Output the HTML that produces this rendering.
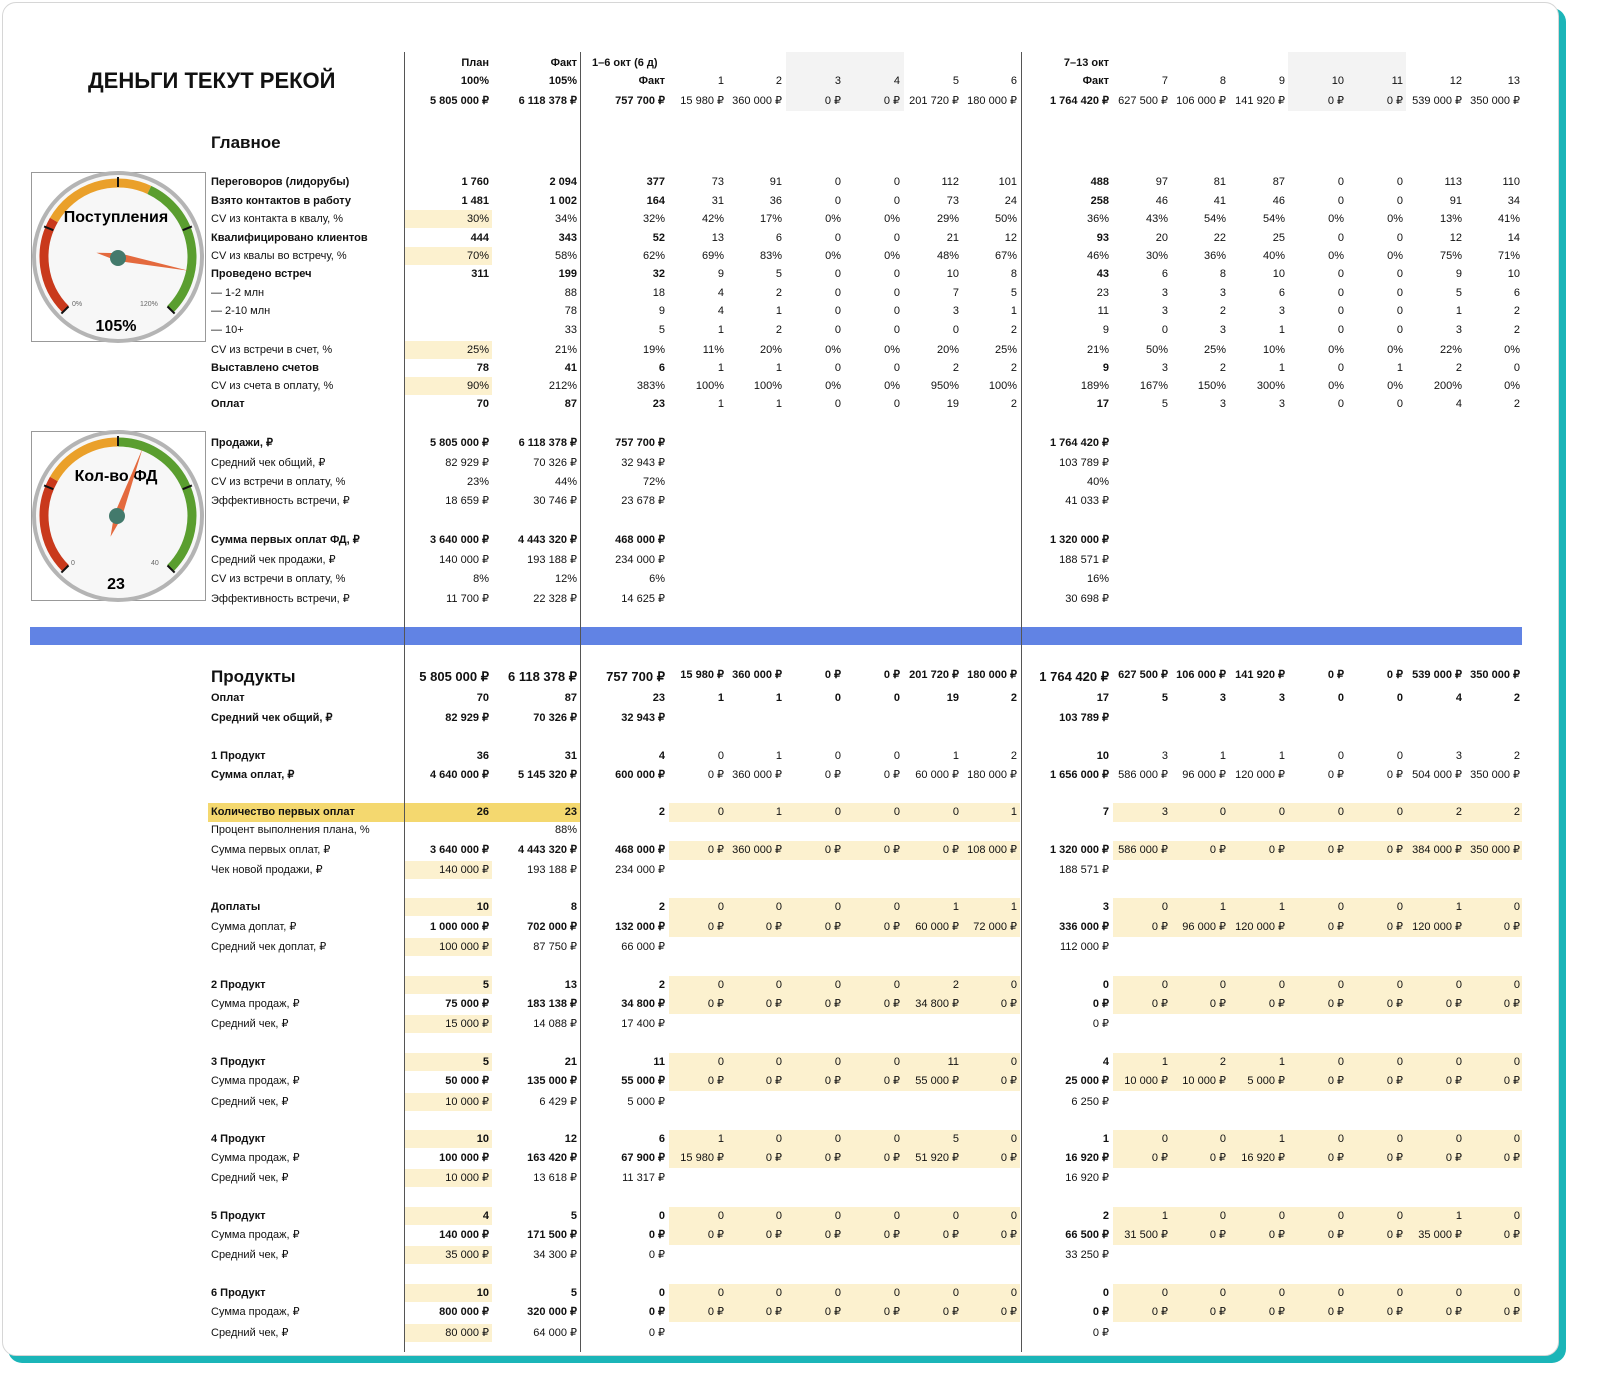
<!DOCTYPE html>
<html><head><meta charset="utf-8"><style>
*{margin:0;padding:0;box-sizing:border-box}
html,body{width:1600px;height:1393px;background:#fff;overflow:hidden;font-family:"Liberation Sans",Arial,sans-serif;color:#111}
#teal{position:absolute;left:8px;top:8px;width:1558px;height:1355px;background:#1bb5b8;border-radius:14px}
#card{position:absolute;left:2px;top:2px;width:1557px;height:1354px;background:#fff;border-radius:14px;border:1px solid #d6d6d6;overflow:hidden}
.bg{position:absolute}
.y{background:#fcf1cf}
.g{background:#f3f3f3}
.vl{position:absolute;top:52px;width:1px;height:1300px;background:#555}
.r{position:absolute;left:0;width:1600px;height:14px;font-size:11px;line-height:14px}
.r>*{position:absolute;top:0;width:100px;text-align:right;font-style:normal;white-space:nowrap}
.r>b{font-weight:bold}
.r>.l{left:211px;text-align:left;width:220px}
.a{left:389px}.b{left:477px}.w{left:565px}
.d1{left:624px}.d2{left:682px}.d3{left:741px}.d4{left:800px}.d5{left:859px}.d6{left:917px}
.x{left:1009px}
.e7{left:1068px}.e8{left:1126px}.e9{left:1185px}.e10{left:1244px}.e11{left:1303px}.e12{left:1362px}.e13{left:1420px}
.big>b.l{font-size:17px;line-height:14px}
.big>b.a,.big>b.b,.big>b.w,.big>b.x{font-size:13px}
</style></head><body>
<div id="teal"></div>
<div id="card"></div>

<!-- backgrounds -->
<div class="bg g" style="left:786px;top:52px;width:118px;height:59px"></div>
<div class="bg g" style="left:1288px;top:52px;width:118px;height:59px"></div>
<div class="bg y" style="left:404px;top:210px;width:88px;height:18px"></div>
<div class="bg y" style="left:404px;top:247px;width:88px;height:18px"></div>
<div class="bg y" style="left:404px;top:341px;width:88px;height:18px"></div>
<div class="bg y" style="left:404px;top:377px;width:88px;height:18px"></div>
<div class="bg" style="left:208px;top:803px;width:372px;height:19px;background:#f4d86f"></div>
<div class="bg y" style="left:404px;top:861px;width:88px;height:18px"></div>
<div class="bg y" style="left:404px;top:898px;width:88px;height:18px"></div>
<div class="bg y" style="left:404px;top:938px;width:88px;height:18px"></div>
<div class="bg y" style="left:404px;top:976px;width:88px;height:18px"></div>
<div class="bg y" style="left:404px;top:1015px;width:88px;height:18px"></div>
<div class="bg y" style="left:404px;top:1053px;width:88px;height:18px"></div>
<div class="bg y" style="left:404px;top:1093px;width:88px;height:18px"></div>
<div class="bg y" style="left:404px;top:1130px;width:88px;height:18px"></div>
<div class="bg y" style="left:404px;top:1169px;width:88px;height:18px"></div>
<div class="bg y" style="left:404px;top:1207px;width:88px;height:18px"></div>
<div class="bg y" style="left:404px;top:1246px;width:88px;height:18px"></div>
<div class="bg y" style="left:404px;top:1284px;width:88px;height:18px"></div>
<div class="bg y" style="left:404px;top:1324px;width:88px;height:18px"></div>
<!-- day bands -->
<div class="bg y" style="left:669px;top:803px;width:351px;height:19px"></div>
<div class="bg y" style="left:1113px;top:803px;width:409px;height:19px"></div>
<div class="bg y" style="left:669px;top:841px;width:351px;height:19px"></div>
<div class="bg y" style="left:1113px;top:841px;width:409px;height:19px"></div>
<div class="bg y" style="left:669px;top:898px;width:351px;height:39px"></div>
<div class="bg y" style="left:1113px;top:898px;width:409px;height:39px"></div>
<div class="bg y" style="left:669px;top:976px;width:351px;height:38px"></div>
<div class="bg y" style="left:1113px;top:976px;width:409px;height:38px"></div>
<div class="bg y" style="left:669px;top:1053px;width:351px;height:38px"></div>
<div class="bg y" style="left:1113px;top:1053px;width:409px;height:38px"></div>
<div class="bg y" style="left:669px;top:1130px;width:351px;height:38px"></div>
<div class="bg y" style="left:1113px;top:1130px;width:409px;height:38px"></div>
<div class="bg y" style="left:669px;top:1207px;width:351px;height:38px"></div>
<div class="bg y" style="left:1113px;top:1207px;width:409px;height:38px"></div>
<div class="bg y" style="left:669px;top:1284px;width:351px;height:38px"></div>
<div class="bg y" style="left:1113px;top:1284px;width:409px;height:38px"></div>
<!-- blue bar -->
<div class="bg" style="left:30px;top:627px;width:1492px;height:18px;background:#6183e4"></div>
<div class="vl" style="left:404px"></div>
<div class="vl" style="left:580px"></div>
<div class="vl" style="left:1021px"></div>

<!-- gauges -->
<div class="bg" style="left:31px;top:172px;width:175px;height:170px;border:1px solid #999"></div>
<div class="bg" style="left:31px;top:431px;width:175px;height:170px;border:1px solid #999"></div>
<svg style="position:absolute;left:0;top:0" width="1600" height="1393">
<g>
<circle cx="118" cy="257" r="84" fill="#f7f7f7" stroke="#b4b4b4" stroke-width="4"/>
<path d="M65.7,309.3 A74,74 0 0 1 53.9,220" fill="none" stroke="#c9391c" stroke-width="9"/>
<path d="M53.9,220 A74,74 0 0 1 149.3,189.9" fill="none" stroke="#eaa02a" stroke-width="9"/>
<path d="M149.3,189.9 A74,74 0 0 1 170.3,309.3" fill="none" stroke="#5a9e2f" stroke-width="9"/>
<g stroke="#111" stroke-width="2"><line x1="53.3" y1="230.2" x2="44.1" y2="226.4"/><line x1="182.7" y1="230.2" x2="191.9" y2="226.4"/><line x1="118" y1="187" x2="118" y2="177"/><line x1="68.5" y1="306.5" x2="61.4" y2="313.6"/><line x1="167.5" y1="306.5" x2="174.6" y2="313.6"/></g>
<text x="116" y="222" font-size="16" font-weight="bold" text-anchor="middle" font-family="Liberation Sans, sans-serif">Поступления</text>
<text x="72" y="306" font-size="7" fill="#666" font-family="Liberation Sans, sans-serif">0%</text>
<text x="140" y="306" font-size="7" fill="#666" font-family="Liberation Sans, sans-serif">120%</text>
<text x="116" y="331" font-size="16" font-weight="bold" text-anchor="middle" font-family="Liberation Sans, sans-serif">105%</text>
<polygon points="188.7,270.7 117.2,260.9 96.4,252.8 118.8,253.1" fill="#e46a3e"/>
<circle cx="118" cy="258" r="8" fill="#437a6c"/>
</g>
<g>
<circle cx="118" cy="516" r="84" fill="#f7f7f7" stroke="#b4b4b4" stroke-width="4"/>
<path d="M65.7,568.3 A74,74 0 0 1 53.9,479" fill="none" stroke="#c9391c" stroke-width="9"/>
<path d="M53.9,479 A74,74 0 0 1 118,442" fill="none" stroke="#eaa02a" stroke-width="9"/>
<path d="M118,442 A74,74 0 0 1 170.3,568.3" fill="none" stroke="#5a9e2f" stroke-width="9"/>
<g stroke="#111" stroke-width="2"><line x1="53.3" y1="489.2" x2="44.1" y2="485.4"/><line x1="182.7" y1="489.2" x2="191.9" y2="485.4"/><line x1="118" y1="446" x2="118" y2="436"/><line x1="68.5" y1="565.5" x2="61.4" y2="572.6"/><line x1="167.5" y1="565.5" x2="174.6" y2="572.6"/></g>
<text x="116" y="481" font-size="16" font-weight="bold" text-anchor="middle" font-family="Liberation Sans, sans-serif">Кол-во ФД</text>
<text x="71" y="565" font-size="7" fill="#666" font-family="Liberation Sans, sans-serif">0</text>
<text x="151" y="565" font-size="7" fill="#666" font-family="Liberation Sans, sans-serif">40</text>
<text x="116" y="589" font-size="16" font-weight="bold" text-anchor="middle" font-family="Liberation Sans, sans-serif">23</text>
<polygon points="142.6,448.3 121.8,517.4 110.5,536.7 114.2,514.6" fill="#e46a3e"/>
<circle cx="117" cy="516" r="8" fill="#437a6c"/>
</g>
</svg>

<div style="position:absolute;left:88px;top:68px;font-size:22px;font-weight:bold;line-height:26px">ДЕНЬГИ ТЕКУТ РЕКОЙ</div>
<div style="position:absolute;left:211px;top:132px;font-size:17px;font-weight:bold;line-height:22px">Главное</div>

<!-- header -->
<div class="r" style="top:56px"><b class="a">План</b><b class="b">Факт</b><b style="left:592px;text-align:left;width:120px">1–6 окт (6 д)</b><b class="x">7–13 окт</b></div>
<div class="r" style="top:74px"><b class="a">100%</b><b class="b">105%</b><b class="w">Факт</b><i class="d1">1</i><i class="d2">2</i><i class="d3">3</i><i class="d4">4</i><i class="d5">5</i><i class="d6">6</i><b class="x">Факт</b><i class="e7">7</i><i class="e8">8</i><i class="e9">9</i><i class="e10">10</i><i class="e11">11</i><i class="e12">12</i><i class="e13">13</i></div>
<div class="r" style="top:94px"><b class="a">5 805 000 ₽</b><b class="b">6 118 378 ₽</b><b class="w">757 700 ₽</b><i class="d1">15 980 ₽</i><i class="d2">360 000 ₽</i><i class="d3">0 ₽</i><i class="d4">0 ₽</i><i class="d5">201 720 ₽</i><i class="d6">180 000 ₽</i><b class="x">1 764 420 ₽</b><i class="e7">627 500 ₽</i><i class="e8">106 000 ₽</i><i class="e9">141 920 ₽</i><i class="e10">0 ₽</i><i class="e11">0 ₽</i><i class="e12">539 000 ₽</i><i class="e13">350 000 ₽</i></div>

<!-- main -->
<div class="r" style="top:175px"><b class="l">Переговоров (лидорубы)</b><b class="a">1 760</b><b class="b">2 094</b><b class="w">377</b><i class="d1">73</i><i class="d2">91</i><i class="d3">0</i><i class="d4">0</i><i class="d5">112</i><i class="d6">101</i><b class="x">488</b><i class="e7">97</i><i class="e8">81</i><i class="e9">87</i><i class="e10">0</i><i class="e11">0</i><i class="e12">113</i><i class="e13">110</i></div>
<div class="r" style="top:194px"><b class="l">Взято контактов в работу</b><b class="a">1 481</b><b class="b">1 002</b><b class="w">164</b><i class="d1">31</i><i class="d2">36</i><i class="d3">0</i><i class="d4">0</i><i class="d5">73</i><i class="d6">24</i><b class="x">258</b><i class="e7">46</i><i class="e8">41</i><i class="e9">46</i><i class="e10">0</i><i class="e11">0</i><i class="e12">91</i><i class="e13">34</i></div>
<div class="r" style="top:212px"><i class="l">CV из контакта в квалу, %</i><i class="a">30%</i><i class="b">34%</i><i class="w">32%</i><i class="d1">42%</i><i class="d2">17%</i><i class="d3">0%</i><i class="d4">0%</i><i class="d5">29%</i><i class="d6">50%</i><i class="x">36%</i><i class="e7">43%</i><i class="e8">54%</i><i class="e9">54%</i><i class="e10">0%</i><i class="e11">0%</i><i class="e12">13%</i><i class="e13">41%</i></div>
<div class="r" style="top:231px"><b class="l">Квалифицировано клиентов</b><b class="a">444</b><b class="b">343</b><b class="w">52</b><i class="d1">13</i><i class="d2">6</i><i class="d3">0</i><i class="d4">0</i><i class="d5">21</i><i class="d6">12</i><b class="x">93</b><i class="e7">20</i><i class="e8">22</i><i class="e9">25</i><i class="e10">0</i><i class="e11">0</i><i class="e12">12</i><i class="e13">14</i></div>
<div class="r" style="top:249px"><i class="l">CV из квалы во встречу, %</i><i class="a">70%</i><i class="b">58%</i><i class="w">62%</i><i class="d1">69%</i><i class="d2">83%</i><i class="d3">0%</i><i class="d4">0%</i><i class="d5">48%</i><i class="d6">67%</i><i class="x">46%</i><i class="e7">30%</i><i class="e8">36%</i><i class="e9">40%</i><i class="e10">0%</i><i class="e11">0%</i><i class="e12">75%</i><i class="e13">71%</i></div>
<div class="r" style="top:267px"><b class="l">Проведено встреч</b><b class="a">311</b><b class="b">199</b><b class="w">32</b><i class="d1">9</i><i class="d2">5</i><i class="d3">0</i><i class="d4">0</i><i class="d5">10</i><i class="d6">8</i><b class="x">43</b><i class="e7">6</i><i class="e8">8</i><i class="e9">10</i><i class="e10">0</i><i class="e11">0</i><i class="e12">9</i><i class="e13">10</i></div>
<div class="r" style="top:286px"><i class="l">— 1-2 млн</i><i class="b">88</i><i class="w">18</i><i class="d1">4</i><i class="d2">2</i><i class="d3">0</i><i class="d4">0</i><i class="d5">7</i><i class="d6">5</i><i class="x">23</i><i class="e7">3</i><i class="e8">3</i><i class="e9">6</i><i class="e10">0</i><i class="e11">0</i><i class="e12">5</i><i class="e13">6</i></div>
<div class="r" style="top:304px"><i class="l">— 2-10 млн</i><i class="b">78</i><i class="w">9</i><i class="d1">4</i><i class="d2">1</i><i class="d3">0</i><i class="d4">0</i><i class="d5">3</i><i class="d6">1</i><i class="x">11</i><i class="e7">3</i><i class="e8">2</i><i class="e9">3</i><i class="e10">0</i><i class="e11">0</i><i class="e12">1</i><i class="e13">2</i></div>
<div class="r" style="top:323px"><i class="l">— 10+</i><i class="b">33</i><i class="w">5</i><i class="d1">1</i><i class="d2">2</i><i class="d3">0</i><i class="d4">0</i><i class="d5">0</i><i class="d6">2</i><i class="x">9</i><i class="e7">0</i><i class="e8">3</i><i class="e9">1</i><i class="e10">0</i><i class="e11">0</i><i class="e12">3</i><i class="e13">2</i></div>
<div class="r" style="top:343px"><i class="l">CV из встречи в счет, %</i><i class="a">25%</i><i class="b">21%</i><i class="w">19%</i><i class="d1">11%</i><i class="d2">20%</i><i class="d3">0%</i><i class="d4">0%</i><i class="d5">20%</i><i class="d6">25%</i><i class="x">21%</i><i class="e7">50%</i><i class="e8">25%</i><i class="e9">10%</i><i class="e10">0%</i><i class="e11">0%</i><i class="e12">22%</i><i class="e13">0%</i></div>
<div class="r" style="top:361px"><b class="l">Выставлено счетов</b><b class="a">78</b><b class="b">41</b><b class="w">6</b><i class="d1">1</i><i class="d2">1</i><i class="d3">0</i><i class="d4">0</i><i class="d5">2</i><i class="d6">2</i><b class="x">9</b><i class="e7">3</i><i class="e8">2</i><i class="e9">1</i><i class="e10">0</i><i class="e11">1</i><i class="e12">2</i><i class="e13">0</i></div>
<div class="r" style="top:379px"><i class="l">CV из счета в оплату, %</i><i class="a">90%</i><i class="b">212%</i><i class="w">383%</i><i class="d1">100%</i><i class="d2">100%</i><i class="d3">0%</i><i class="d4">0%</i><i class="d5">950%</i><i class="d6">100%</i><i class="x">189%</i><i class="e7">167%</i><i class="e8">150%</i><i class="e9">300%</i><i class="e10">0%</i><i class="e11">0%</i><i class="e12">200%</i><i class="e13">0%</i></div>
<div class="r" style="top:397px"><b class="l">Оплат</b><b class="a">70</b><b class="b">87</b><b class="w">23</b><i class="d1">1</i><i class="d2">1</i><i class="d3">0</i><i class="d4">0</i><i class="d5">19</i><i class="d6">2</i><b class="x">17</b><i class="e7">5</i><i class="e8">3</i><i class="e9">3</i><i class="e10">0</i><i class="e11">0</i><i class="e12">4</i><i class="e13">2</i></div>

<!-- sales -->
<div class="r" style="top:436px"><b class="l">Продажи, ₽</b><b class="a">5 805 000 ₽</b><b class="b">6 118 378 ₽</b><b class="w">757 700 ₽</b><b class="x">1 764 420 ₽</b></div>
<div class="r" style="top:456px"><i class="l">Средний чек общий, ₽</i><i class="a">82 929 ₽</i><i class="b">70 326 ₽</i><i class="w">32 943 ₽</i><i class="x">103 789 ₽</i></div>
<div class="r" style="top:475px"><i class="l">CV из встречи в оплату, %</i><i class="a">23%</i><i class="b">44%</i><i class="w">72%</i><i class="x">40%</i></div>
<div class="r" style="top:494px"><i class="l">Эффективность встречи, ₽</i><i class="a">18 659 ₽</i><i class="b">30 746 ₽</i><i class="w">23 678 ₽</i><i class="x">41 033 ₽</i></div>
<div class="r" style="top:533px"><b class="l">Сумма первых оплат ФД, ₽</b><b class="a">3 640 000 ₽</b><b class="b">4 443 320 ₽</b><b class="w">468 000 ₽</b><b class="x">1 320 000 ₽</b></div>
<div class="r" style="top:553px"><i class="l">Средний чек продажи, ₽</i><i class="a">140 000 ₽</i><i class="b">193 188 ₽</i><i class="w">234 000 ₽</i><i class="x">188 571 ₽</i></div>
<div class="r" style="top:572px"><i class="l">CV из встречи в оплату, %</i><i class="a">8%</i><i class="b">12%</i><i class="w">6%</i><i class="x">16%</i></div>
<div class="r" style="top:592px"><i class="l">Эффективность встречи, ₽</i><i class="a">11 700 ₽</i><i class="b">22 328 ₽</i><i class="w">14 625 ₽</i><i class="x">30 698 ₽</i></div>

<!-- products -->
<div class="r big" style="top:669px;height:16px;line-height:16px"><b class="l" style="font-size:17px;line-height:16px">Продукты</b><b class="a" style="font-size:13px;line-height:16px">5 805 000 ₽</b><b class="b" style="font-size:13px;line-height:16px">6 118 378 ₽</b><b class="w" style="font-size:13px;line-height:16px">757 700 ₽</b><b class="d1" style="line-height:12px">15 980 ₽</b><b class="d2" style="line-height:12px">360 000 ₽</b><b class="d3" style="line-height:12px">0 ₽</b><b class="d4" style="line-height:12px">0 ₽</b><b class="d5" style="line-height:12px">201 720 ₽</b><b class="d6" style="line-height:12px">180 000 ₽</b><b class="x" style="font-size:13px;line-height:16px">1 764 420 ₽</b><b class="e7" style="line-height:12px">627 500 ₽</b><b class="e8" style="line-height:12px">106 000 ₽</b><b class="e9" style="line-height:12px">141 920 ₽</b><b class="e10" style="line-height:12px">0 ₽</b><b class="e11" style="line-height:12px">0 ₽</b><b class="e12" style="line-height:12px">539 000 ₽</b><b class="e13" style="line-height:12px">350 000 ₽</b></div>
<div class="r" style="top:691px"><b class="l">Оплат</b><b class="a">70</b><b class="b">87</b><b class="w">23</b><b class="d1">1</b><b class="d2">1</b><b class="d3">0</b><b class="d4">0</b><b class="d5">19</b><b class="d6">2</b><b class="x">17</b><b class="e7">5</b><b class="e8">3</b><b class="e9">3</b><b class="e10">0</b><b class="e11">0</b><b class="e12">4</b><b class="e13">2</b></div>
<div class="r" style="top:711px"><b class="l">Средний чек общий, ₽</b><b class="a">82 929 ₽</b><b class="b">70 326 ₽</b><b class="w">32 943 ₽</b><b class="x">103 789 ₽</b></div>

<div class="r" style="top:749px"><b class="l">1 Продукт</b><b class="a">36</b><b class="b">31</b><b class="w">4</b><i class="d1">0</i><i class="d2">1</i><i class="d3">0</i><i class="d4">0</i><i class="d5">1</i><i class="d6">2</i><b class="x">10</b><i class="e7">3</i><i class="e8">1</i><i class="e9">1</i><i class="e10">0</i><i class="e11">0</i><i class="e12">3</i><i class="e13">2</i></div>
<div class="r" style="top:768px"><b class="l">Сумма оплат, ₽</b><b class="a">4 640 000 ₽</b><b class="b">5 145 320 ₽</b><b class="w">600 000 ₽</b><i class="d1">0 ₽</i><i class="d2">360 000 ₽</i><i class="d3">0 ₽</i><i class="d4">0 ₽</i><i class="d5">60 000 ₽</i><i class="d6">180 000 ₽</i><b class="x">1 656 000 ₽</b><i class="e7">586 000 ₽</i><i class="e8">96 000 ₽</i><i class="e9">120 000 ₽</i><i class="e10">0 ₽</i><i class="e11">0 ₽</i><i class="e12">504 000 ₽</i><i class="e13">350 000 ₽</i></div>

<div class="r" style="top:805px"><b class="l">Количество первых оплат</b><b class="a">26</b><b class="b">23</b><b class="w">2</b><i class="d1">0</i><i class="d2">1</i><i class="d3">0</i><i class="d4">0</i><i class="d5">0</i><i class="d6">1</i><b class="x">7</b><i class="e7">3</i><i class="e8">0</i><i class="e9">0</i><i class="e10">0</i><i class="e11">0</i><i class="e12">2</i><i class="e13">2</i></div>
<div class="r" style="top:823px"><i class="l">Процент выполнения плана, %</i><i class="b">88%</i></div>
<div class="r" style="top:843px"><i class="l">Сумма первых оплат, ₽</i><b class="a">3 640 000 ₽</b><b class="b">4 443 320 ₽</b><b class="w">468 000 ₽</b><i class="d1">0 ₽</i><i class="d2">360 000 ₽</i><i class="d3">0 ₽</i><i class="d4">0 ₽</i><i class="d5">0 ₽</i><i class="d6">108 000 ₽</i><b class="x">1 320 000 ₽</b><i class="e7">586 000 ₽</i><i class="e8">0 ₽</i><i class="e9">0 ₽</i><i class="e10">0 ₽</i><i class="e11">0 ₽</i><i class="e12">384 000 ₽</i><i class="e13">350 000 ₽</i></div>
<div class="r" style="top:863px"><i class="l">Чек новой продажи, ₽</i><i class="a">140 000 ₽</i><i class="b">193 188 ₽</i><i class="w">234 000 ₽</i><i class="x">188 571 ₽</i></div>

<div class="r" style="top:900px"><b class="l">Доплаты</b><b class="a">10</b><b class="b">8</b><b class="w">2</b><i class="d1">0</i><i class="d2">0</i><i class="d3">0</i><i class="d4">0</i><i class="d5">1</i><i class="d6">1</i><b class="x">3</b><i class="e7">0</i><i class="e8">1</i><i class="e9">1</i><i class="e10">0</i><i class="e11">0</i><i class="e12">1</i><i class="e13">0</i></div>
<div class="r" style="top:920px"><i class="l">Сумма доплат, ₽</i><b class="a">1 000 000 ₽</b><b class="b">702 000 ₽</b><b class="w">132 000 ₽</b><i class="d1">0 ₽</i><i class="d2">0 ₽</i><i class="d3">0 ₽</i><i class="d4">0 ₽</i><i class="d5">60 000 ₽</i><i class="d6">72 000 ₽</i><b class="x">336 000 ₽</b><i class="e7">0 ₽</i><i class="e8">96 000 ₽</i><i class="e9">120 000 ₽</i><i class="e10">0 ₽</i><i class="e11">0 ₽</i><i class="e12">120 000 ₽</i><i class="e13">0 ₽</i></div>
<div class="r" style="top:940px"><i class="l">Средний чек доплат, ₽</i><i class="a">100 000 ₽</i><i class="b">87 750 ₽</i><i class="w">66 000 ₽</i><i class="x">112 000 ₽</i></div>

<div class="r" style="top:978px"><b class="l">2 Продукт</b><b class="a">5</b><b class="b">13</b><b class="w">2</b><i class="d1">0</i><i class="d2">0</i><i class="d3">0</i><i class="d4">0</i><i class="d5">2</i><i class="d6">0</i><b class="x">0</b><i class="e7">0</i><i class="e8">0</i><i class="e9">0</i><i class="e10">0</i><i class="e11">0</i><i class="e12">0</i><i class="e13">0</i></div>
<div class="r" style="top:997px"><i class="l">Сумма продаж, ₽</i><b class="a">75 000 ₽</b><b class="b">183 138 ₽</b><b class="w">34 800 ₽</b><i class="d1">0 ₽</i><i class="d2">0 ₽</i><i class="d3">0 ₽</i><i class="d4">0 ₽</i><i class="d5">34 800 ₽</i><i class="d6">0 ₽</i><b class="x">0 ₽</b><i class="e7">0 ₽</i><i class="e8">0 ₽</i><i class="e9">0 ₽</i><i class="e10">0 ₽</i><i class="e11">0 ₽</i><i class="e12">0 ₽</i><i class="e13">0 ₽</i></div>
<div class="r" style="top:1017px"><i class="l">Средний чек, ₽</i><i class="a">15 000 ₽</i><i class="b">14 088 ₽</i><i class="w">17 400 ₽</i><i class="x">0 ₽</i></div>

<div class="r" style="top:1055px"><b class="l">3 Продукт</b><b class="a">5</b><b class="b">21</b><b class="w">11</b><i class="d1">0</i><i class="d2">0</i><i class="d3">0</i><i class="d4">0</i><i class="d5">11</i><i class="d6">0</i><b class="x">4</b><i class="e7">1</i><i class="e8">2</i><i class="e9">1</i><i class="e10">0</i><i class="e11">0</i><i class="e12">0</i><i class="e13">0</i></div>
<div class="r" style="top:1074px"><i class="l">Сумма продаж, ₽</i><b class="a">50 000 ₽</b><b class="b">135 000 ₽</b><b class="w">55 000 ₽</b><i class="d1">0 ₽</i><i class="d2">0 ₽</i><i class="d3">0 ₽</i><i class="d4">0 ₽</i><i class="d5">55 000 ₽</i><i class="d6">0 ₽</i><b class="x">25 000 ₽</b><i class="e7">10 000 ₽</i><i class="e8">10 000 ₽</i><i class="e9">5 000 ₽</i><i class="e10">0 ₽</i><i class="e11">0 ₽</i><i class="e12">0 ₽</i><i class="e13">0 ₽</i></div>
<div class="r" style="top:1095px"><i class="l">Средний чек, ₽</i><i class="a">10 000 ₽</i><i class="b">6 429 ₽</i><i class="w">5 000 ₽</i><i class="x">6 250 ₽</i></div>

<div class="r" style="top:1132px"><b class="l">4 Продукт</b><b class="a">10</b><b class="b">12</b><b class="w">6</b><i class="d1">1</i><i class="d2">0</i><i class="d3">0</i><i class="d4">0</i><i class="d5">5</i><i class="d6">0</i><b class="x">1</b><i class="e7">0</i><i class="e8">0</i><i class="e9">1</i><i class="e10">0</i><i class="e11">0</i><i class="e12">0</i><i class="e13">0</i></div>
<div class="r" style="top:1151px"><i class="l">Сумма продаж, ₽</i><b class="a">100 000 ₽</b><b class="b">163 420 ₽</b><b class="w">67 900 ₽</b><i class="d1">15 980 ₽</i><i class="d2">0 ₽</i><i class="d3">0 ₽</i><i class="d4">0 ₽</i><i class="d5">51 920 ₽</i><i class="d6">0 ₽</i><b class="x">16 920 ₽</b><i class="e7">0 ₽</i><i class="e8">0 ₽</i><i class="e9">16 920 ₽</i><i class="e10">0 ₽</i><i class="e11">0 ₽</i><i class="e12">0 ₽</i><i class="e13">0 ₽</i></div>
<div class="r" style="top:1171px"><i class="l">Средний чек, ₽</i><i class="a">10 000 ₽</i><i class="b">13 618 ₽</i><i class="w">11 317 ₽</i><i class="x">16 920 ₽</i></div>

<div class="r" style="top:1209px"><b class="l">5 Продукт</b><b class="a">4</b><b class="b">5</b><b class="w">0</b><i class="d1">0</i><i class="d2">0</i><i class="d3">0</i><i class="d4">0</i><i class="d5">0</i><i class="d6">0</i><b class="x">2</b><i class="e7">1</i><i class="e8">0</i><i class="e9">0</i><i class="e10">0</i><i class="e11">0</i><i class="e12">1</i><i class="e13">0</i></div>
<div class="r" style="top:1228px"><i class="l">Сумма продаж, ₽</i><b class="a">140 000 ₽</b><b class="b">171 500 ₽</b><b class="w">0 ₽</b><i class="d1">0 ₽</i><i class="d2">0 ₽</i><i class="d3">0 ₽</i><i class="d4">0 ₽</i><i class="d5">0 ₽</i><i class="d6">0 ₽</i><b class="x">66 500 ₽</b><i class="e7">31 500 ₽</i><i class="e8">0 ₽</i><i class="e9">0 ₽</i><i class="e10">0 ₽</i><i class="e11">0 ₽</i><i class="e12">35 000 ₽</i><i class="e13">0 ₽</i></div>
<div class="r" style="top:1248px"><i class="l">Средний чек, ₽</i><i class="a">35 000 ₽</i><i class="b">34 300 ₽</i><i class="w">0 ₽</i><i class="x">33 250 ₽</i></div>

<div class="r" style="top:1286px"><b class="l">6 Продукт</b><b class="a">10</b><b class="b">5</b><b class="w">0</b><i class="d1">0</i><i class="d2">0</i><i class="d3">0</i><i class="d4">0</i><i class="d5">0</i><i class="d6">0</i><b class="x">0</b><i class="e7">0</i><i class="e8">0</i><i class="e9">0</i><i class="e10">0</i><i class="e11">0</i><i class="e12">0</i><i class="e13">0</i></div>
<div class="r" style="top:1305px"><i class="l">Сумма продаж, ₽</i><b class="a">800 000 ₽</b><b class="b">320 000 ₽</b><b class="w">0 ₽</b><i class="d1">0 ₽</i><i class="d2">0 ₽</i><i class="d3">0 ₽</i><i class="d4">0 ₽</i><i class="d5">0 ₽</i><i class="d6">0 ₽</i><b class="x">0 ₽</b><i class="e7">0 ₽</i><i class="e8">0 ₽</i><i class="e9">0 ₽</i><i class="e10">0 ₽</i><i class="e11">0 ₽</i><i class="e12">0 ₽</i><i class="e13">0 ₽</i></div>
<div class="r" style="top:1326px"><i class="l">Средний чек, ₽</i><i class="a">80 000 ₽</i><i class="b">64 000 ₽</i><i class="w">0 ₽</i><i class="x">0 ₽</i></div>
</body></html>
